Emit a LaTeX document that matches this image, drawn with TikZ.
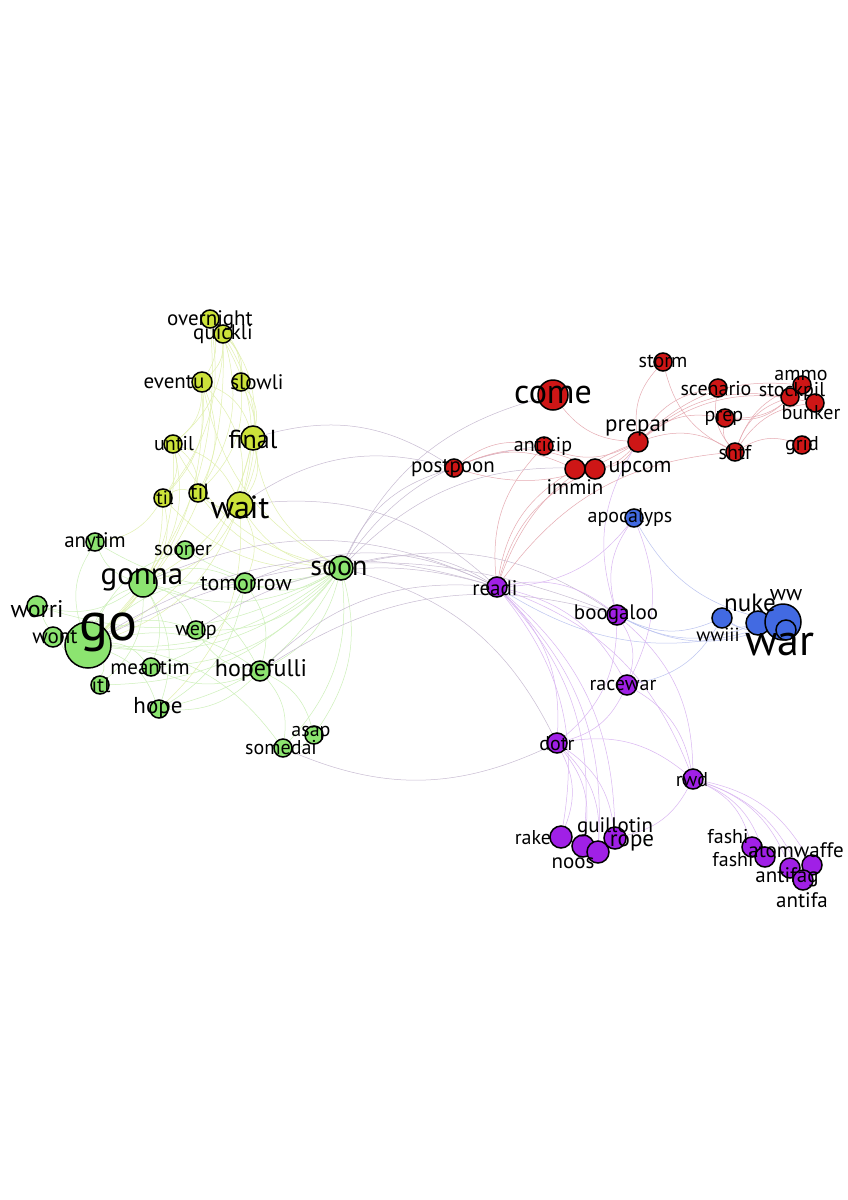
\documentclass[tikz,border=0pt]{standalone}
\usepackage{fontspec}
\setmainfont{PT Sans}
\pgfdeclarelayer{edges}
\pgfsetlayers{edges,main}
\definecolor{cG}{RGB}{140,228,112}
\definecolor{cY}{RGB}{204,226,58}
\definecolor{cR}{RGB}{206,22,22}
\definecolor{cB}{RGB}{66,106,226}
\definecolor{cP}{RGB}{160,32,230}
\definecolor{eG}{RGB}{205,240,185}
\definecolor{eY}{RGB}{225,240,175}
\definecolor{eR}{RGB}{230,170,178}
\definecolor{eP}{RGB}{218,182,242}
\definecolor{eB}{RGB}{188,196,240}
\definecolor{eX}{RGB}{200,188,210}
\tikzset{
  vtx/.style={circle,draw=black,line width=1.5pt,inner sep=0pt},
  vG/.style={vtx,fill=cG},
  vY/.style={vtx,fill=cY},
  vR/.style={vtx,fill=cR},
  vB/.style={vtx,fill=cB},
  vP/.style={vtx,fill=cP},
  lbl/.style={inner sep=0pt,text=black},
  edg/.style={line width=0.5pt},
  egG/.style={edg,draw=eG},
  egY/.style={edg,draw=eY},
  egR/.style={edg,draw=eR},
  egP/.style={edg,draw=eP},
  egB/.style={edg,draw=eB},
  egX/.style={edg,draw=eX},
}
\newcommand\fs[1]{\fontsize{#1}{#1}\selectfont}
\begin{document}
\begin{tikzpicture}[x=1pt,y=-1pt]
\begin{pgfonlayer}{edges}
\path[use as bounding box,fill=white] (0,0) rectangle (848,1200);
\end{pgfonlayer}
% ---------- vertices ----------
% yellow
\node[vY,minimum size=18] (overnight) at (210,319) {};
\node[vY,minimum size=18] (quickli) at (223,334) {};
\node[vY,minimum size=20] (eventu) at (202,382) {};
\node[vY,minimum size=18] (slowli) at (241,382) {};
\node[vY,minimum size=18] (until) at (173,444) {};
\node[vY,minimum size=24] (final) at (253,438) {};
\node[vY,minimum size=18] (tilA) at (163,498) {};
\node[vY,minimum size=18] (tilB) at (198,493) {};
\node[vY,minimum size=26] (wait) at (240,505) {};
% green
\node[vG,minimum size=18] (anytim) at (95,542) {};
\node[vG,minimum size=18] (sooner) at (185,550) {};
\node[vG,minimum size=28] (gonna) at (143,583) {};
\node[vG,minimum size=20] (tomorrow) at (245,583) {};
\node[vG,minimum size=24] (soon) at (341,568) {};
\node[vG,minimum size=20] (worri) at (37,606) {};
\node[vG,minimum size=20] (wont) at (53,637) {};
\node[vG,minimum size=46] (go) at (88,645) {};
\node[vG,minimum size=18] (welp) at (196,630) {};
\node[vG,minimum size=18] (meantim) at (151,667) {};
\node[vG,minimum size=20] (hopefulli) at (260,671) {};
\node[vG,minimum size=18] (itl) at (100,685) {};
\node[vG,minimum size=18] (hope) at (159,709) {};
\node[vG,minimum size=18] (asap) at (314,735) {};
\node[vG,minimum size=18] (somedai) at (283,748) {};
% red
\node[vR,minimum size=18] (storm) at (663,362) {};
\node[vR,minimum size=30] (come) at (553,395) {};
\node[vR,minimum size=18] (scenario) at (718,388) {};
\node[vR,minimum size=18] (stockpil) at (790,397) {};
\node[vR,minimum size=18] (ammo) at (802,385) {};
\node[vR,minimum size=18] (bunker) at (815,403) {};
\node[vR,minimum size=18] (prep) at (725,418) {};
\node[vR,minimum size=20] (prepar) at (638,442) {};
\node[vR,minimum size=18] (anticip) at (544,446) {};
\node[vR,minimum size=18] (shtf) at (735,452) {};
\node[vR,minimum size=18] (grid) at (802,445) {};
\node[vR,minimum size=18] (postpoon) at (454,468) {};
\node[vR,minimum size=20] (immin) at (575,469) {};
\node[vR,minimum size=20] (upcom) at (595,469) {};
% blue
\node[vB,minimum size=18] (apocalyps) at (634,518) {};
\node[vB,minimum size=20] (wwiii) at (722,618) {};
\node[vB,minimum size=24] (nuke) at (758,623) {};
\node[vB,minimum size=36] (war) at (783,622) {};
\node[vB,minimum size=20] (ww) at (786,630) {};
% purple
\node[vP,minimum size=20] (readi) at (497,587) {};
\node[vP,minimum size=20] (boogaloo) at (617,615) {};
\node[vP,minimum size=20] (racewar) at (627,685) {};
\node[vP,minimum size=20] (dotr) at (557,743) {};
\node[vP,minimum size=20] (rwd) at (693,779) {};
\node[vP,minimum size=22] (rake) at (561,837) {};
\node[vP,minimum size=22] (noos) at (583,846) {};
\node[vP,minimum size=22] (guillotin) at (598,852) {};
\node[vP,minimum size=22] (rope) at (615,838) {};
\node[vP,minimum size=20] (fashiA) at (752,847) {};
\node[vP,minimum size=20] (fashiB) at (765,857) {};
\node[vP,minimum size=20] (antifag) at (790,868) {};
\node[vP,minimum size=20] (atomwaffe) at (812,865) {};
\node[vP,minimum size=20] (antifa) at (803,880) {};
% ---------- edges ----------
\begin{pgfonlayer}{edges}
\foreach \a/\b in {soon/gonna,soon/go,soon/tomorrow,soon/hope,soon/hopefulli,soon/meantim,soon/welp,soon/sooner,soon/anytim,soon/asap,soon/somedai,soon/itl,soon/wont,soon/worri,
  go/gonna,go/wont,go/worri,go/itl,go/hope,go/meantim,go/welp,go/anytim,go/tomorrow,go/hopefulli,go/sooner,go/somedai,
  gonna/hopefulli,gonna/hope,gonna/meantim,gonna/welp,gonna/tomorrow,gonna/worri,gonna/anytim,gonna/itl,
  hopefulli/hope,hopefulli/meantim,hopefulli/welp,hopefulli/asap,hopefulli/somedai,tomorrow/hopefulli,tomorrow/hope,tomorrow/meantim,asap/somedai}
  \draw[egG] (\a) to[bend left=24] (\b);
\foreach \a/\b in {overnight/quickli,overnight/eventu,overnight/slowli,overnight/final,overnight/go,overnight/tilA,overnight/wait,
  quickli/slowli,quickli/eventu,quickli/until,quickli/tilB,quickli/wait,quickli/go,
  eventu/until,eventu/tilA,eventu/tilB,eventu/final,eventu/go,eventu/wait,
  slowli/final,slowli/wait,slowli/tilB,until/tilA,until/tilB,until/go,until/wait,until/gonna,
  final/wait,final/go,final/gonna,tilA/tilB,tilA/go,tilA/gonna,tilA/anytim,
  wait/go,wait/gonna,wait/hope,wait/tomorrow,wait/tilB,
  soon/wait,soon/tilA,soon/tilB,soon/until,soon/final,soon/eventu}
  \draw[egY] (\a) to[bend left=24] (\b);
\foreach \a/\b in {soon/readi,soon/postpoon,soon/come,soon/anticip,soon/upcom,soon/boogaloo,soon/dotr,
  go/readi,go/boogaloo,gonna/readi,hopefulli/readi,hopefulli/boogaloo,dotr/somedai,wait/postpoon,wait/readi,
  tomorrow/readi,final/postpoon,welp/readi}
  \draw[egX] (\a) to[bend left=24] (\b);
\foreach \a/\b in {prepar/come,prepar/storm,prepar/scenario,prepar/prep,prepar/shtf,prepar/stockpil,prepar/ammo,prepar/bunker,prepar/anticip,prepar/immin,prepar/upcom,prepar/postpoon,
  shtf/prep,shtf/scenario,shtf/stockpil,shtf/ammo,shtf/bunker,shtf/grid,shtf/storm,
  postpoon/anticip,postpoon/upcom,postpoon/immin,readi/prepar,readi/immin,readi/upcom,readi/anticip,readi/shtf,
  stockpil/ammo,stockpil/bunker,stockpil/prep,ammo/bunker,ammo/prep}
  \draw[egR] (\a) to[bend left=24] (\b);
\foreach \a/\b in {war/ww,war/nuke,war/wwiii,war/boogaloo,war/apocalyps,war/readi,nuke/wwiii,nuke/ww,nuke/boogaloo,wwiii/racewar,wwiii/boogaloo}
  \draw[egB] (\a) to[bend left=24] (\b);
\foreach \a/\b in {readi/boogaloo,readi/racewar,readi/dotr,readi/rwd,readi/rake,readi/noos,readi/rope,readi/guillotin,
  boogaloo/racewar,boogaloo/dotr,boogaloo/rwd,boogaloo/apocalyps,boogaloo/prepar,racewar/dotr,racewar/rwd,
  dotr/rwd,dotr/rake,dotr/noos,dotr/guillotin,dotr/rope,
  rwd/fashiA,rwd/fashiB,rwd/atomwaffe,rwd/antifag,rwd/antifa,rwd/rope,apocalyps/racewar,apocalyps/readi}
  \draw[egP] (\a) to[bend left=24] (\b);
\end{pgfonlayer}
% ---------- labels ----------
\node[lbl,font=\fs{21}] (overnight-l) at (210,320) {overnight};
\node[lbl,font=\fs{21}] (quickli-l) at (223,334) {quickli};
\node[lbl,font=\fs{21}] (eventu-l) at (174,382) {eventu};
\node[lbl,font=\fs{21}] (slowli-l) at (257,382) {slowli};
\node[lbl,font=\fs{20}] (until-l) at (174,444) {until};
\node[lbl,font=\fs{26}] (final-l) at (253,439) {final};
\node[lbl,font=\fs{19}] (tilA-l) at (165,498) {til};
\node[lbl,font=\fs{22}] (tilB-l) at (200,492) {til};
\node[lbl,font=\fs{32}] (wait-l) at (240,507) {wait};
\node[lbl,font=\fs{21}] (anytim-l) at (95,542) {anytim};
\node[lbl,font=\fs{20}] (sooner-l) at (183,550) {sooner};
\node[lbl,font=\fs{31}] (gonna-l) at (142,580) {gonna};
\node[lbl,font=\fs{22}] (tomorrow-l) at (246,584) {tomorrow};
\node[lbl,font=\fs{28}] (soon-l) at (339,568) {soon};
\node[lbl,font=\fs{24}] (worri-l) at (37,609) {worri};
\node[lbl,font=\fs{21}] (wont-l) at (55,637) {wont};
\node[lbl,font=\fs{54}] (go-l) at (108,632) {go};
\node[lbl,font=\fs{20}] (welp-l) at (196,630) {welp};
\node[lbl,font=\fs{21}] (meantim-l) at (150,667) {meantim};
\node[lbl,font=\fs{24}] (hopefulli-l) at (261,670) {hopefulli};
\node[lbl,font=\fs{21}] (itl-l) at (101,685) {itl};
\node[lbl,font=\fs{23}] (hope-l) at (158,708) {hope};
\node[lbl,font=\fs{20}] (asap-l) at (311,733) {asap};
\node[lbl,font=\fs{20}] (somedai-l) at (281,748) {somedai};
\node[lbl,font=\fs{20}] (storm-l) at (663,361) {storm};
\node[lbl,font=\fs{34}] (come-l) at (553,395) {come};
\node[lbl,font=\fs{20}] (scenario-l) at (716,389) {scenario};
\node[lbl,font=\fs{20}] (stockpil-l) at (792,391) {stockpil};
\node[lbl,font=\fs{20}] (ammo-l) at (801,375) {ammo};
\node[lbl,font=\fs{20}] (bunker-l) at (811,413) {bunker};
\node[lbl,font=\fs{20}] (prep-l) at (724,418) {prep};
\node[lbl,font=\fs{23}] (prepar-l) at (637,428) {prepar};
\node[lbl,font=\fs{20}] (anticip-l) at (543,446) {anticip};
\node[lbl,font=\fs{20}] (shtf-l) at (735,453) {shtf};
\node[lbl,font=\fs{20}] (grid-l) at (802,446) {grid};
\node[lbl,font=\fs{21}] (postpoon-l) at (453,468) {postpoon};
\node[lbl,font=\fs{21}] (immin-l) at (575,487) {immin};
\node[lbl,font=\fs{22}] (upcom-l) at (640,469) {upcom};
\node[lbl,font=\fs{20}] (apocalyps-l) at (630,518) {apocalyps};
\node[lbl,font=\fs{19}] (wwiii-l) at (718,635) {wwiii};
\node[lbl,font=\fs{25}] (nuke-l) at (750,603) {nuke};
\node[lbl,font=\fs{22}] (ww-l) at (786,595) {ww};
\node[lbl,font=\fs{44}] (war-l) at (780,645) {war};
\node[lbl,font=\fs{21}] (readi-l) at (495,588) {readi};
\node[lbl,font=\fs{21}] (boogaloo-l) at (616,614) {boogaloo};
\node[lbl,font=\fs{20}] (racewar-l) at (623,685) {racewar};
\node[lbl,font=\fs{20}] (dotr-l) at (557,744) {dotr};
\node[lbl,font=\fs{20}] (rwd-l) at (692,780) {rwd};
\node[lbl,font=\fs{20}] (rake-l) at (533,838) {rake};
\node[lbl,font=\fs{21}] (guillotin-l) at (615,827) {guillotin};
\node[lbl,font=\fs{21}] (noos-l) at (573,863) {noos};
\node[lbl,font=\fs{23}] (rope-l) at (632,843) {rope};
\node[lbl,font=\fs{20}] (fashiA-l) at (728,837) {fashi};
\node[lbl,font=\fs{20}] (fashiB-l) at (733,860) {fashi};
\node[lbl,font=\fs{21}] (atomwaffe-l) at (796,850) {atomwaffe};
\node[lbl,font=\fs{21}] (antifag-l) at (787,877) {antifag};
\node[lbl,font=\fs{21}] (antifa-l) at (802,900) {antifa};
\end{tikzpicture}
\end{document}
